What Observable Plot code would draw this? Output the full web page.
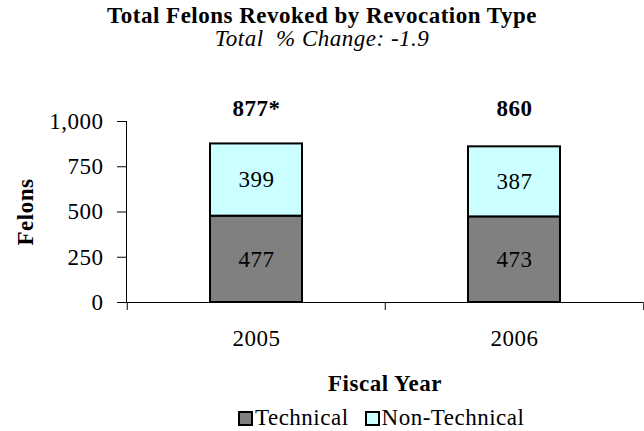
<!DOCTYPE html>
<html>
<head>
<meta charset="utf-8">
<script src="https://cdn.jsdelivr.net/npm/d3@7"></script>
<script src="https://cdn.jsdelivr.net/npm/@observablehq/plot@0.6"></script>
<style>
  html, body { margin: 0; padding: 0; background: white; }
  body { width: 644px; height: 431px; overflow: hidden; font-family: "Liberation Serif", "Times New Roman", serif; color: black; letter-spacing: 0.5px; }
  .header { position: relative; height: 60px; }
  .title { position: absolute; left: 0; right: 0; top: 2px; text-align: center; font-weight: bold; font-size: 23px; line-height: 27px; }
  .subtitle { position: absolute; left: 0; right: 0; top: 25px; text-align: center; font-style: italic; font-size: 23px; line-height: 27px; }
  #chart svg { display: block; letter-spacing: 0.5px; }
  .legend { display: flex; align-items: center; padding-left: 238px; margin-top: 6px; height: 28px; font-size: 23px; }
  .legend .item { display: flex; align-items: center; margin-right: 16px; }
  .legend .sw { width: 15px; height: 15px; box-sizing: border-box; border: 2px solid black; margin-right: 2px; }
</style>
</head>
<body>
<div class="header">
  <div class="title">Total Felons Revoked by Revocation Type</div>
  <div class="subtitle">Total&nbsp; % Change: -1.9</div>
</div>
<div id="chart"></div>
<div class="legend" id="legend"></div>
<script>
const years = ["2005", "2006"];
const technical = [477, 473];
const nonTechnical = [399, 387];
const totalLabels = ["877*", "860"];
const types = ["Technical", "Non-Technical"];
const colors = ["#808080", "#CCFFFF"];
const yTicks = [0, 250, 500, 750, 1000];

const data = years.flatMap((year, i) => [
  {year, type: types[0], value: technical[i]},
  {year, type: types[1], value: nonTechnical[i]}
]);
const totals = years.map((year, i) => ({year, total: technical[i] + nonTechnical[i], label: totalLabels[i]}));

const W = 644, H = 338, mL = 126, mR = 1, mT = 61, mB = 96;
const step = (W - mL - mR) / years.length;

const chart = Plot.plot({
  width: W, height: H,
  marginTop: mT, marginBottom: mB, marginLeft: mL, marginRight: mR,
  style: {fontFamily: "Liberation Serif, Times New Roman, serif", fontSize: "23px", color: "black", background: "white", overflow: "visible"},
  x: {domain: years, paddingInner: 0.644, paddingOuter: 0.322, label: null},
  y: {domain: [0, 1000], label: null},
  color: {domain: types, range: colors},
  marks: [
    Plot.axisY({ticks: yTicks, tickSize: 9, tickPadding: 14, tickFormat: d3.format(","), label: null}),
    Plot.axisX({tickSize: 0, tickPadding: 27, label: null}),
    Plot.axisX(years, {tickSize: 8, tickFormat: () => "", dx: -step / 2, label: null}),
    Plot.axisX([years[years.length - 1]], {tickSize: 8, tickFormat: () => "", dx: step / 2, label: null}),
    Plot.frame({anchor: "left"}),
    Plot.ruleY([0]),
    Plot.barY(data, {x: "year", y: "value", fill: "type", stroke: "black", strokeWidth: 2, inset: 0}),
    Plot.text(data, Plot.stackY({x: "year", y: "value", text: d => String(d.value), fill: "black"})),
    Plot.text(totals, {x: "year", text: "label", frameAnchor: "top", lineAnchor: "middle", dy: -13, fontWeight: "bold"}),
    Plot.text(["Fiscal Year"], {text: d => d, frameAnchor: "bottom", lineAnchor: "middle", dy: 81, fontWeight: "bold"}),
    Plot.text(["Felons"], {text: d => d, frameAnchor: "left", textAnchor: "middle", lineAnchor: "middle", rotate: -90, dx: -101, fontWeight: "bold"})
  ]
});
document.getElementById("chart").appendChild(chart);

const legend = document.getElementById("legend");
types.forEach((t, i) => {
  const item = document.createElement("div");
  item.className = "item";
  const sw = document.createElement("div");
  sw.className = "sw";
  sw.style.background = colors[i];
  const label = document.createElement("span");
  label.textContent = t;
  item.appendChild(sw);
  item.appendChild(label);
  legend.appendChild(item);
});
</script>
</body>
</html>
